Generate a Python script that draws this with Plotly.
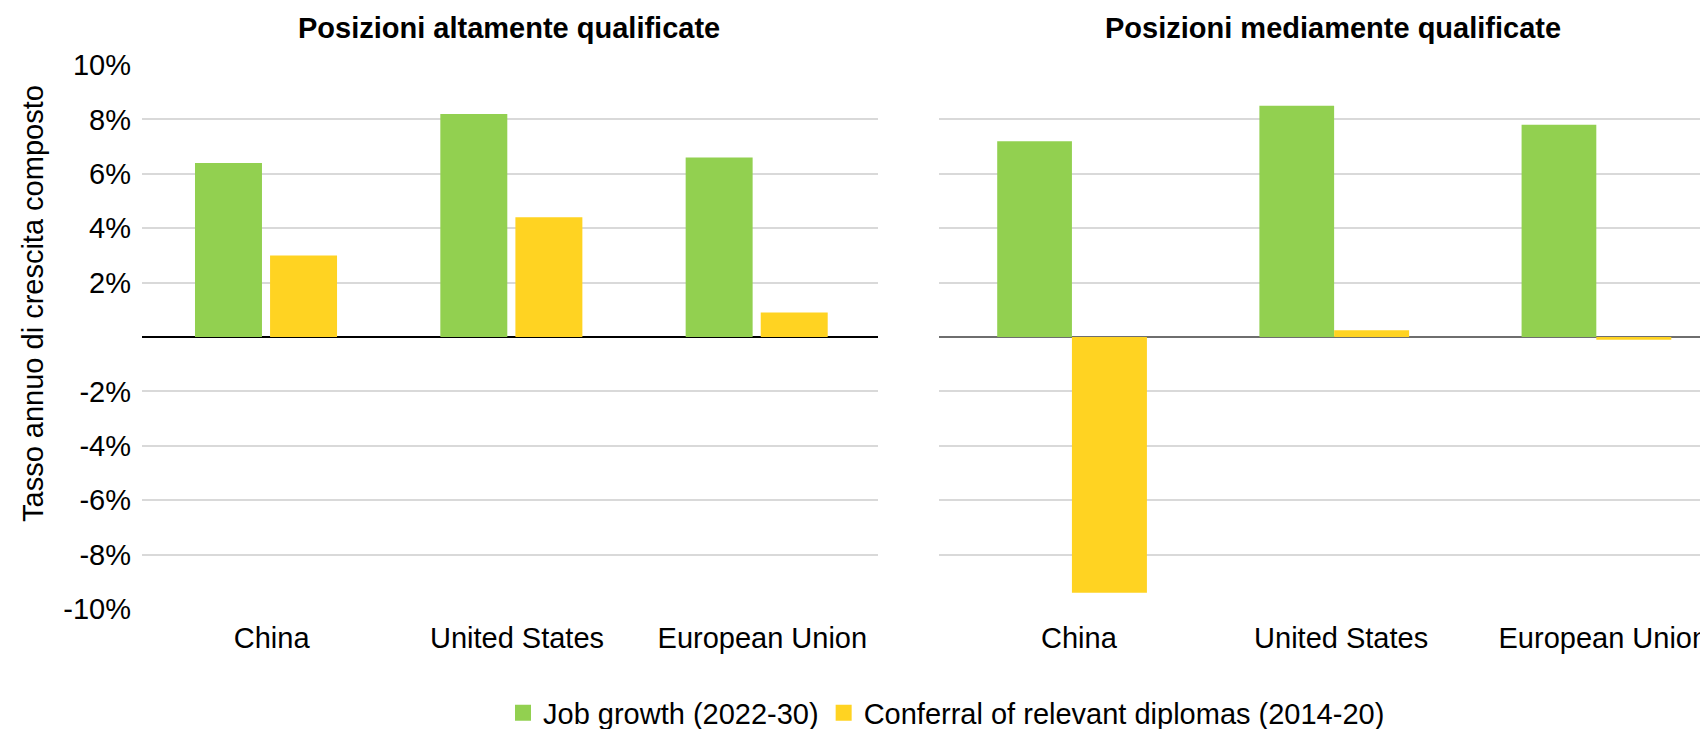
import plotly.graph_objects as go

# ---- data ----
categories = ["China", "United States", "European Union"]
high_job_growth = [6.4, 8.2, 6.6]
high_diplomas = [3.0, 4.4, 0.9]
mid_job_growth = [7.2, 8.5, 7.8]
mid_diplomas = [-9.4, 0.25, -0.1]
series_names = ["Job growth (2022-30)", "Conferral of relevant diplomas (2014-20)"]
panel_titles = ["Posizioni altamente qualificate", "Posizioni mediamente qualificate"]
y_title = "Tasso annuo di crescita composto"
tick_vals = [-10, -8, -6, -4, -2, 2, 4, 6, 8, 10]
tick_text = [f"{v}%" for v in tick_vals]

# page is 1708x729; html body has an 8px margin, so the figure starts at (8, 8)
OFF = 8
W, H = 1708 - OFF, 737
GREEN = "#92D050"
YELLOW = "#FFD322"
FONT = "Liberation Sans, Arial, sans-serif"
FS = 29


def px(x):
    return (x - OFF) / W


def py(y):
    return 1 - (y - OFF) / H


fig = go.Figure()

# left panel
fig.add_trace(go.Bar(x=categories, y=high_job_growth, name=series_names[0],
                     marker=dict(color=GREEN, line=dict(width=0)),
                     offset=-0.3125, width=0.273, xaxis="x", yaxis="y",
                     legendgroup="g", showlegend=False))
fig.add_trace(go.Bar(x=categories, y=high_diplomas, name=series_names[1],
                     marker=dict(color=YELLOW, line=dict(width=0)),
                     offset=-0.0065, width=0.273, xaxis="x", yaxis="y",
                     legendgroup="y", showlegend=False))
# right panel
fig.add_trace(go.Bar(x=categories, y=mid_job_growth, name=series_names[0],
                     marker=dict(color=GREEN, line=dict(width=0)),
                     offset=-0.3117, width=0.285, xaxis="x2", yaxis="y2",
                     legendgroup="g", showlegend=False))
fig.add_trace(go.Bar(x=categories, y=mid_diplomas, name=series_names[1],
                     marker=dict(color=YELLOW, line=dict(width=0)),
                     offset=-0.0267, width=0.286, xaxis="x2", yaxis="y2",
                     legendgroup="y", showlegend=False))
# legend entries (square swatches)
for name, col, grp in [(series_names[0], GREEN, "g"), (series_names[1], YELLOW, "y")]:
    fig.add_trace(go.Scatter(x=[None], y=[None], mode="markers", name=name,
                             marker=dict(symbol="square", size=18, color=col),
                             legendgroup=grp, showlegend=True, xaxis="x", yaxis="y",
                             hoverinfo="skip"))

y_dom = [py(609), py(65)]
axis_common = dict(tickfont=dict(family=FONT, size=FS, color="#000000"),
                   automargin=False)

fig.update_layout(
    width=W, height=H,
    margin=dict(l=0, r=0, t=0, b=0, pad=0),
    paper_bgcolor="white", plot_bgcolor="white",
    font=dict(family=FONT, size=FS, color="#000000"),
    barmode="overlay",
    xaxis=dict(domain=[px(142), px(878)], range=[-0.5285, 2.4715],
               showgrid=False, showline=False, zeroline=False,
               ticks="", ticklabelstandoff=9, anchor="y", **axis_common),
    xaxis2=dict(domain=[px(939), 1.0], range=[-0.5337, 2.3993],
                showgrid=False, showline=False, zeroline=False,
                ticks="", ticklabelstandoff=9, anchor="y2", **axis_common),
    yaxis=dict(domain=y_dom, range=[-10, 10], tickvals=tick_vals, ticktext=tick_text,
               showgrid=True, gridcolor="#D9D9D9", gridwidth=2,
               zeroline=True, zerolinecolor="#000000", zerolinewidth=1.5,
               showline=False, ticks="", ticklabelstandoff=10, anchor="x",
               **axis_common),
    yaxis2=dict(domain=y_dom, range=[-10, 10], tickvals=tick_vals,
                showticklabels=False,
                showgrid=True, gridcolor="#D9D9D9", gridwidth=2,
                zeroline=True, zerolinecolor="#6E6E6E", zerolinewidth=2,
                showline=False, ticks="", anchor="x2", **axis_common),
    legend=dict(orientation="h", x=px(503), xanchor="left", y=6.5 / H, yanchor="bottom",
                font=dict(family=FONT, size=FS, color="#000000"),
                itemsizing="trace",
                bgcolor="rgba(0,0,0,0)", traceorder="normal"),
    annotations=[
        dict(text=f"<b>{panel_titles[0]}</b>", x=px(509), y=py(28), xref="paper", yref="paper",
             xanchor="center", yanchor="middle", showarrow=False,
             font=dict(family=FONT, size=FS, color="#000000")),
        dict(text=f"<b>{panel_titles[1]}</b>", x=px(1333), y=py(28), xref="paper", yref="paper",
             xanchor="center", yanchor="middle", showarrow=False,
             font=dict(family=FONT, size=FS, color="#000000")),
        dict(text=y_title, x=px(33), y=py(304), xref="paper", yref="paper",
             xanchor="center", yanchor="middle", showarrow=False, textangle=-90,
             font=dict(family=FONT, size=FS, color="#000000")),
    ],
)

fig.write_html("out.html")
